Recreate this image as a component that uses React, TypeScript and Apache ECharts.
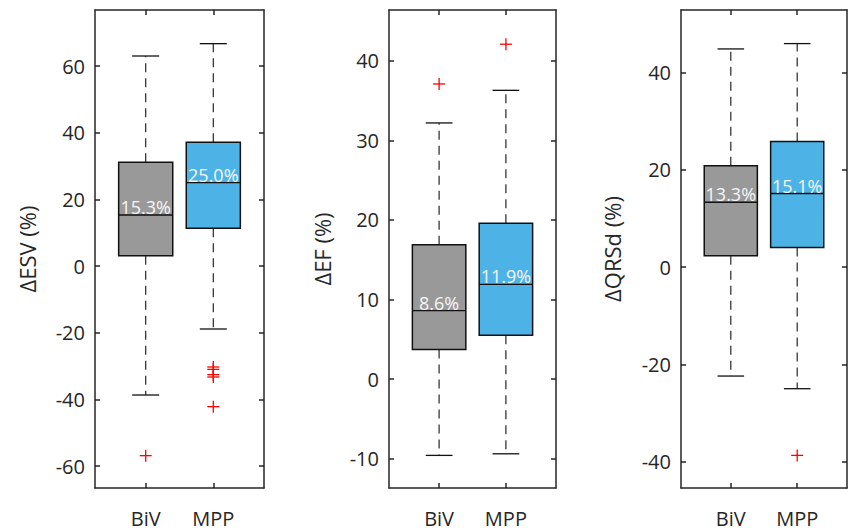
import React, { useEffect, useRef } from "react";
import * as echarts from "echarts";

const categories = ["BiV", "MPP"];
const categoryPositions = [1, 2];
const boxColors = ["#999999", "#4db3e6"];

// [lower whisker, Q1, median, Q3, upper whisker]
const esvStats = [
  [-38.7, 3.1, 15.3, 31.1, 63.0],
  [-18.9, 11.3, 25.0, 37.1, 66.7],
];
const esvOutliers = [[-56.9], [-30.3, -31.0, -32.6, -33.3, -42.2]];
const esvTicks = [-60, -40, -20, 0, 20, 40, 60];
const esvRange = [-66.6, 76.8];

const efStats = [
  [-9.6, 3.7, 8.6, 16.9, 32.2],
  [-9.4, 5.5, 11.9, 19.6, 36.3],
];
const efOutliers = [[37.1], [42.1]];
const efTicks = [-10, 0, 10, 20, 30, 40];
const efRange = [-13.7, 46.4];

const qrsStats = [
  [-22.4, 2.3, 13.3, 20.8, 44.8],
  [-25.0, 4.0, 15.1, 25.8, 45.9],
];
const qrsOutliers = [[], [-38.7]];
const qrsTicks = [-40, -20, 0, 20, 40];
const qrsRange = [-45.4, 52.8];

const panelTitles = ["\u0394ESV (%)", "\u0394EF (%)", "\u0394QRSd (%)"];

const FONT = "Open Sans";
const INK = "#262626";

const panels = [
  { stats: esvStats, outliers: esvOutliers, ticks: esvTicks, range: esvRange, left: 95, width: 169, nameGap: 57 },
  { stats: efStats, outliers: efOutliers, ticks: efTicks, range: efRange, left: 389, width: 167, nameGap: 56 },
  { stats: qrsStats, outliers: qrsOutliers, ticks: qrsTicks, range: qrsRange, left: 681, width: 166, nameGap: 58 },
];

function boxRender(params: any, api: any) {
  const x = api.value(0);
  const lo = api.coord([x, api.value(1)]);
  const q1 = api.coord([x, api.value(2)]);
  const med = api.coord([x, api.value(3)]);
  const q3 = api.coord([x, api.value(4)]);
  const hi = api.coord([x, api.value(5)]);
  const cx = lo[0];
  const halfW = api.size([0.8, 0])[0] / 2;
  const capHalf = api.size([0.4, 0])[0] / 2;
  const label = api.value(3).toFixed(1) + "%";
  const dashStyle = { stroke: INK, lineWidth: 1.2, lineDash: [9, 6], fill: null };
  const solid = { stroke: "#111", lineWidth: 1.3, fill: null };
  return {
    type: "group",
    children: [
      { type: "line", shape: { x1: cx, y1: q3[1], x2: cx, y2: hi[1] }, style: dashStyle },
      { type: "line", shape: { x1: cx, y1: q1[1], x2: cx, y2: lo[1] }, style: dashStyle },
      { type: "line", shape: { x1: cx - capHalf, y1: hi[1], x2: cx + capHalf, y2: hi[1] }, style: solid },
      { type: "line", shape: { x1: cx - capHalf, y1: lo[1], x2: cx + capHalf, y2: lo[1] }, style: solid },
      {
        type: "rect",
        shape: { x: cx - halfW, y: q3[1], width: halfW * 2, height: q1[1] - q3[1] },
        style: { fill: boxColors[params.dataIndex], stroke: "#111", lineWidth: 1.5 },
      },
      { type: "line", shape: { x1: cx - halfW, y1: med[1], x2: cx + halfW, y2: med[1] }, style: solid },
      {
        type: "text",
        style: {
          text: label,
          x: cx,
          y: med[1] + 1,
          align: "center",
          verticalAlign: "bottom",
          fill: "#f5f5f5",
          fontSize: 18,
          fontFamily: FONT,
        },
      },
    ],
  };
}

function plusRender(params: any, api: any) {
  const p = api.coord([api.value(0), api.value(1)]);
  const h = 6;
  const st = { stroke: "#ff0000", lineWidth: 1.3, fill: null };
  return {
    type: "group",
    children: [
      { type: "line", shape: { x1: p[0] - h, y1: p[1], x2: p[0] + h, y2: p[1] }, style: st },
      { type: "line", shape: { x1: p[0], y1: p[1] - h, x2: p[0], y2: p[1] + h }, style: st },
    ],
  };
}

export default function App() {
  const ref = useRef<HTMLDivElement>(null);
  useEffect(() => {
    if (!ref.current) return;
    const chart = echarts.init(ref.current, undefined, { renderer: "svg" });
    const grid: any[] = [];
    const xAxis: any[] = [];
    const yAxis: any[] = [];
    const series: any[] = [];
    const lineStyle = { color: INK, width: 1.5 };
    panels.forEach((p, i) => {
      grid.push({ left: p.left, top: 10, width: p.width, height: 478 });
      const xBase = {
        type: "value",
        gridIndex: i,
        min: 0.25,
        max: 2.75,
        splitLine: { show: false },
        axisLine: { show: true, onZero: false, lineStyle },
        axisTick: { show: true, inside: true, length: 5, lineStyle, customValues: categoryPositions },
      };
      xAxis.push({
        ...xBase,
        position: "bottom",
        axisLabel: {
          show: true,
          customValues: categoryPositions,
          formatter: (v: number) => categories[Math.round(v) - 1] ?? "",
          color: INK,
          fontSize: 20,
          fontFamily: FONT,
          margin: 20,
        },
      });
      xAxis.push({ ...xBase, position: "top", axisLabel: { show: false } });
      const yBase = {
        type: "value",
        gridIndex: i,
        min: p.range[0],
        max: p.range[1],
        splitLine: { show: false },
        axisLine: { show: true, onZero: false, lineStyle },
        axisTick: { show: true, inside: true, length: 5, lineStyle, customValues: p.ticks },
      };
      yAxis.push({
        ...yBase,
        position: "left",
        name: panelTitles[i],
        nameLocation: "middle",
        nameRotate: 90,
        nameGap: p.nameGap,
        nameTextStyle: { color: INK, fontSize: 22, fontFamily: FONT },
        axisLabel: { show: true, customValues: p.ticks, color: INK, fontSize: 20, fontFamily: FONT, margin: 10 },
      });
      yAxis.push({ ...yBase, position: "right", axisLabel: { show: false } });
      series.push({
        type: "custom",
        xAxisIndex: i * 2,
        yAxisIndex: i * 2,
        renderItem: boxRender,
        data: p.stats.map((s, k) => [categoryPositions[k], ...s]),
        silent: true,
      });
      const pts: number[][] = [];
      p.outliers.forEach((arr, k) => arr.forEach((v) => pts.push([categoryPositions[k], v])));
      series.push({
        type: "custom",
        xAxisIndex: i * 2,
        yAxisIndex: i * 2,
        renderItem: plusRender,
        data: pts,
        silent: true,
      });
    });
    chart.setOption({ animation: false, backgroundColor: "#ffffff", grid, xAxis, yAxis, series });
    return () => chart.dispose();
  }, []);
  return <div ref={ref} style={{ position: "fixed", left: 0, top: 0, width: 848, height: 532 }} />;
}
